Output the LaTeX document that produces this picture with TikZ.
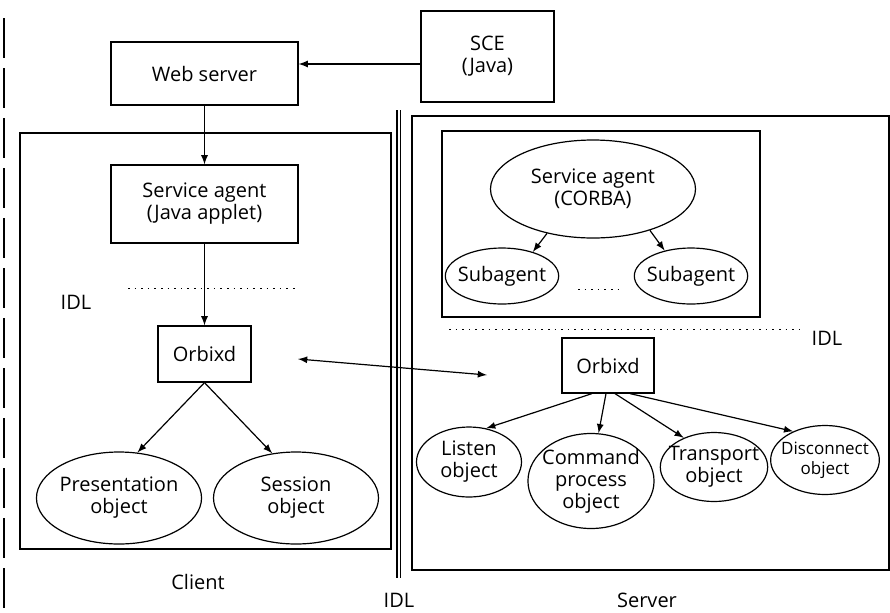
\documentclass[tikz,border=0pt]{standalone}
\usepackage{fontspec}
\setmainfont{Open Sans}
\usetikzlibrary{arrows.meta,positioning,shapes}
\tikzset{
mybox/.style={
  rectangle,
  draw=black,
  inner sep=0pt,
  align=center,
  font=\fontsize{10}{11}\selectfont
  },
myell/.style={
  ellipse,
  draw=black,
  inner sep=0pt,
  align=center,
  font=\fontsize{10}{11}\selectfont
  },
idlline/.style={line width=0.4pt, dash pattern=on 0.8pt off 2.5pt},
lbl/.style={font=\fontsize{10}{11}\selectfont}
}

\begin{document}
\begin{tikzpicture}[>=latex, x=0.5pt, y=-0.5pt, line width=0.6pt]
\useasboundingbox (0,0) rectangle (890,612);

% outer frames
\draw[dash pattern=on 20pt off 5pt] (4,18) -- (4,612);
\draw (20,133) rectangle (391,549);
\draw (412,116) rectangle (889,570);
\draw (442,131) rectangle (760,317);
\draw (397,110) -- (397,578);
\draw (400.5,110) -- (400.5,578);

% top
\node[mybox, minimum width=93.5pt, minimum height=31.5pt] (web) at (204.5,73.5) {Web server};
\node[mybox, minimum width=66.5pt, minimum height=45.5pt] (sce) at (487.5,56.5) {SCE\\(Java)};

% client side
\node[mybox, minimum width=93.5pt, minimum height=39pt] (agent) at (204.5,204) {Service agent\\(Java applet)};
\node[mybox, minimum width=46.5pt, minimum height=28pt] (orb1) at (204.5,354) {Orbixd};
\node[myell, minimum width=82.5pt, minimum height=46pt, inner xsep=-0.5pt] (pres) at (119,498) {Presentation\\object};
\node[myell, minimum width=82.5pt, minimum height=46pt] (sess) at (296,498) {Session\\object};

% server side
\node[myell, minimum width=102.5pt, minimum height=49pt] (corba) at (593,189) {Service agent\\(CORBA)};
\node[myell, minimum width=55pt, minimum height=28pt, inner xsep=-2pt] (sub1) at (502,276) {Subagent};
\node[myell, minimum width=55.5pt, minimum height=28pt, inner xsep=-2pt] (sub2) at (691,276) {Subagent};
\node[mybox, minimum width=46pt, minimum height=27.5pt] (orb2) at (608,365.5) {Orbixd};
\node[myell, minimum width=52.5pt, minimum height=35pt] (listen) at (469,462) {Listen\\object};
\node[myell, minimum width=62.5pt, minimum height=47.5pt, inner xsep=-2.1pt] (cmd) at (591,481) {Command\\process\\object};
\node[myell, minimum width=52pt, minimum height=34.5pt, inner xsep=-3.6pt] (trans) at (714,467) {Transport\\object};
\node[myell, minimum width=53pt, minimum height=34.5pt, inner xsep=-2.7pt, font=\fontsize{8.5}{10}\selectfont] (disc) at (825,460) {Disconnect\\object};

% labels
\node[lbl] (idl1) at (76,302) {IDL};
\node[lbl] (idl2) at (827,338) {IDL};
\node[lbl] (idl3) at (399,600) {IDL};
\node[lbl] (client) at (198,582) {Client};
\node[lbl] (server) at (647,600) {Server};

% idl boundaries
\draw[idlline] (128,288) -- (295,288);
\draw[idlline] (449,329) -- (805,329);
\draw[idlline] (578,289) -- (620,289);

% arrows
\draw[->] ([yshift=-3.75pt]sce.west) coordinate (s1) -- (s1 -| web.east);
\draw[->] (web) -- (agent);
\draw[->] (agent) -- (orb1);
\draw[->] (orb1.south) -- (pres.68);
\draw[->] (orb1.south) -- (sess.118);
\draw[->] (corba.224) -- (sub1.38);
\draw[->] (corba.324) -- (sub2.136);
\draw[->] ([xshift=-8pt]orb2.south) -- (listen.63);
\draw[->] ([xshift=-1pt]orb2.south) -- (cmd.81);
\draw[->] ([xshift=3.5pt]orb2.south) -- (trans.136);
\draw[->] ([xshift=11pt]orb2.south) -- (disc.138);

\coordinate (c1) at (298,359);
\coordinate (c2) at (487,375);
\draw[<->] (c1) -- (c2);
\end{tikzpicture}
\end{document}
